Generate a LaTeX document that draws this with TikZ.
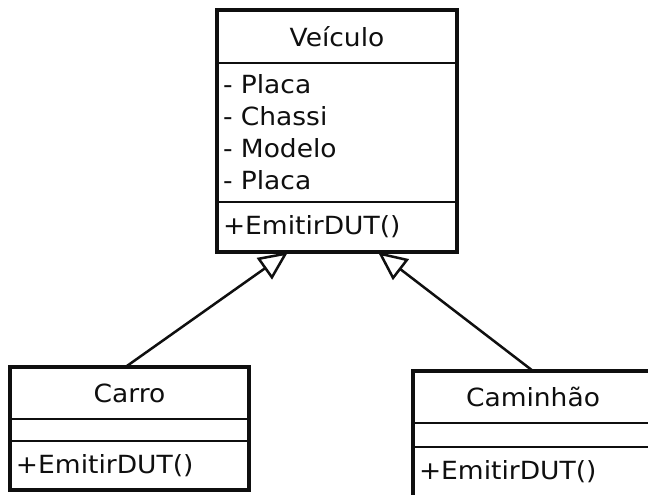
\documentclass[tikz,border=0pt]{standalone}
\usepackage{fontspec}
\setmainfont{DejaVu Sans}[FakeStretch=1.06]
\usepackage{tikz}
\usetikzlibrary{positioning}
\usetikzlibrary{arrows.meta}
\definecolor{myline}{RGB}{15,15,15}

\begin{document}
\begin{tikzpicture}[x=1pt,y=1pt]
	\path[use as bounding box, clip] (0,0) rectangle (648,495);
	\fill[white] (0,0) rectangle (648,495);

	\begin{scope}[every node/.style={draw=myline, line width=2.2pt, outer sep=0pt, inner xsep=6pt,
	              font=\fontsize{25}{32}\selectfont, text=myline}]
	    % Veiculo
	    \node (veiculo) [minimum width=240, minimum height=53] at (337,458.5) {Veículo};
	    \node (veiculoattr) [below=0pt of veiculo, minimum width=240, minimum height=139,
	          text width=228, align=left] {- Placa\\- Chassi\\- Modelo\\- Placa};
	    \node (veiculoop) [below=0pt of veiculoattr, minimum width=240, minimum height=50,
	          text width=228, align=left] {+EmitirDUT()};
	    % Carro
	    \node (carro) [minimum width=239, minimum height=52] at (129.5,102) {Carro};
	    \node (carroattr) [below=0pt of carro, minimum width=239, minimum height=22] {};
	    \node (carroop) [below=0pt of carroattr, minimum width=239, minimum height=49,
	          text width=227, align=left] {+EmitirDUT()};
	    % Caminhao
	    \node (caminhao) [minimum width=240, minimum height=52] at (533,98) {Caminhão};
	    \node (caminhaoattr) [below=0pt of caminhao, minimum width=240, minimum height=24] {};
	    \node (caminhaoop) [below=0pt of caminhaoattr, minimum width=240, minimum height=50,
	          text width=228, align=left] {+EmitirDUT()};
	\end{scope}

	\begin{scope}[line width=3.2pt, draw=myline]
	    \draw (veiculo.north west) rectangle (veiculoop.south east);
	    \draw (carro.north west) rectangle (carroop.south east);
	    \draw (caminhao.north west) rectangle (caminhaoop.south east);
	\end{scope}

	\begin{scope}[>={Triangle[open, length=29pt, width=26pt]},
	              every edge/.style={draw=myline, line width=2.5pt}]
    	\path [->] ([xshift=-4pt]carro.north) edge ([xshift=-49pt]veiculoop.south);
    	\path [->] (caminhao.north) edge ([xshift=41pt]veiculoop.south);
	\end{scope}
\end{tikzpicture}
\end{document}
